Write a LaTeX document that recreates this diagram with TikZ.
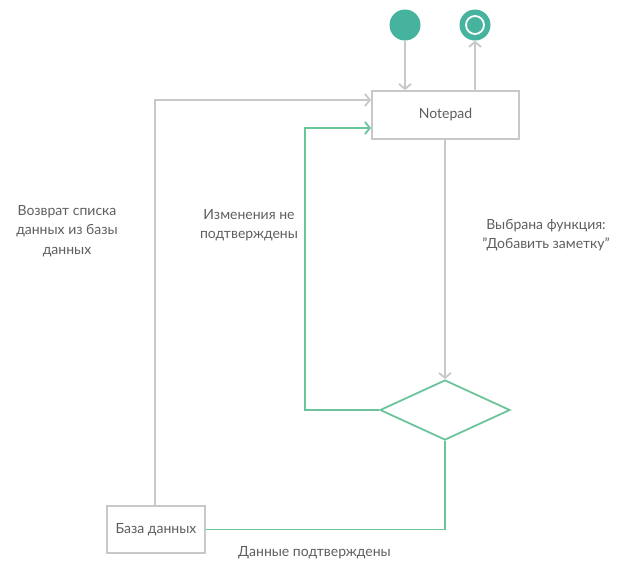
\documentclass[tikz,border=0pt]{standalone}
\usepackage{fontspec}
\setmainfont{Lato}
\usetikzlibrary{arrows.meta,shapes.geometric}
\definecolor{grayline}{HTML}{C8C8C8}
\definecolor{greenline}{HTML}{6CC49A}
\definecolor{teal}{HTML}{45B39D}
\definecolor{txt}{HTML}{5E5E5E}
\begin{document}
\begin{tikzpicture}[x=1pt,y=-1pt,
  every node/.style={font=\fontsize{14}{19.5}\selectfont,text=txt},
  box/.style={draw=grayline,line width=1.8pt,fill=white,inner sep=0pt},
  gline/.style={draw=grayline,line width=1.8pt},
  grline/.style={draw=greenline,line width=1.8pt},
  tip/.style={-{Straight Barb[length=5pt,width=12pt,line width=1.8pt]}},
  lbl/.style={align=center,inner sep=0pt}]
\useasboundingbox (0,0) rectangle (621,587);
\node[circle,fill=teal,minimum size=31pt,inner sep=0pt] (start) at (405,25) {};
\node[circle,fill=teal,minimum size=31pt,inner sep=0pt] (end) at (475,25) {};
\draw[white,line width=1.8pt] (end.center) circle (9pt);
\node[box,minimum width=147pt,minimum height=48pt] (np) at (445.5,115) {Notepad};
\node[box,minimum width=98pt,minimum height=47pt] (db) at (156,529.5) {База данных};
\node[diamond,draw=greenline,line width=1.8pt,minimum width=130pt,minimum height=60pt,inner sep=0pt,aspect=2.1667] (dec) at (445,410) {};
\coordinate (npA) at (np.north -| start);
\coordinate (npB) at (np.north -| end);
\draw[gline,tip] (start.south) -- (npA);
\draw[gline,tip] (npB) -- (end.south);
\draw[gline,tip] (np.south -| dec.north) -- (dec.north);
\coordinate (c1) at (155,100);
\draw[gline,tip] (db.north -| c1) -- (c1) -- (c1 -| np.west);
\coordinate (c2) at (305,128);
\draw[grline,tip] (dec.west) -- (dec.west -| c2) -- (c2) -- (c2 -| np.west);
\draw[grline] (db.east) -- (db.east -| dec.south) -- (dec.south);
\node[lbl] (l1) at (67,231) {Возврат списка\\данных из базы\\данных};
\node[lbl] (l2) at (249,225) {Изменения не\\подтверждены};
\node[lbl] (l3) at (546,235) {Выбрана функция:\\\char34 Добавить заметку\char34};
\node[lbl] (l4) at (314.5,553) {Данные подтверждены};
\end{tikzpicture}
\end{document}
